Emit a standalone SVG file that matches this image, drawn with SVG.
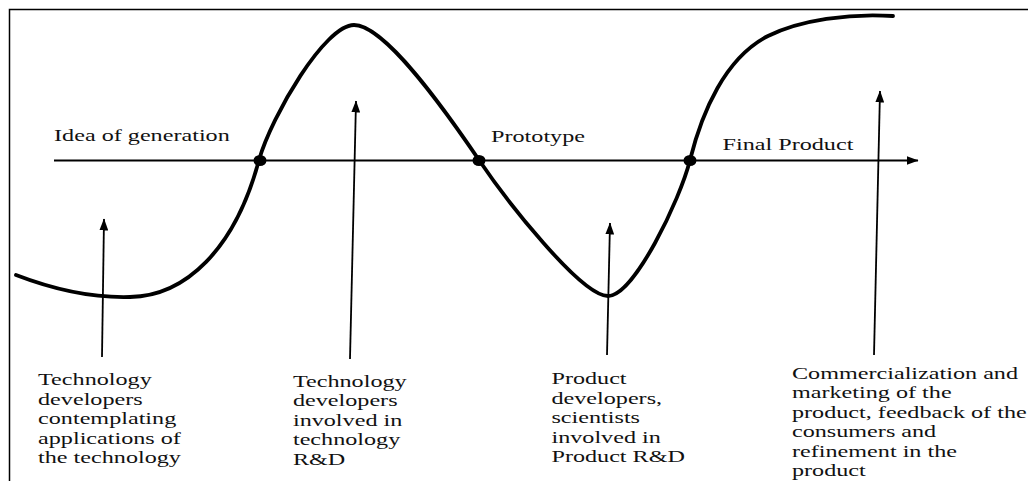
<svg xmlns="http://www.w3.org/2000/svg" width="1028" height="481" viewBox="0 0 1028 481">
  <style>
    .frame { stroke: #000; stroke-width: 1.5; fill: none; }
    .curve { stroke: #000; stroke-width: 3.8; fill: none; stroke-linecap: round; stroke-linejoin: round; }
    .axis { stroke: #000; stroke-width: 2; fill: none; }
    .arrow { stroke: #000; stroke-width: 1.8; fill: none; }
    .dot { fill: #000; }
    text { font-family: "Liberation Serif", "Times New Roman", serif; font-size: 16px; fill: #111; }
  </style>
  <defs>
    <marker id="ah" markerWidth="12" markerHeight="9" refX="11.5" refY="4.5" orient="auto" markerUnits="userSpaceOnUse">
      <path d="M0,0 L12,4.5 L0,9 Z" fill="#000"/>
    </marker>
  </defs>
  <rect width="1028" height="481" fill="#fff"/>

  <g id="frame">
    <path class="frame" d="M9.5,481 L9.5,9.5 L1028,9.5"/>
  </g>

  <g id="axis">
    <line class="axis" x1="54" y1="160.5" x2="918" y2="160.5" marker-end="url(#ah)"/>
  </g>

  <g id="curve">
    <path class="curve" d="M16,275 C55,290 95,298 130,297 C185,296 235,250 259,160 C272,115 325,25 354,25 C385,25 445,110 479,160 C506,200 581,296 608,296 C634,296 680,200 690,160 C702,112 725,58 768,36 C800,20 850,13 893,16"/>
  </g>

  <g id="stage-idea">
    <ellipse class="dot" cx="260" cy="160.5" rx="6.5" ry="5.5"/>
    <text transform="scale(1.51 1)" x="35.8" y="141.5">Idea of generation</text>
  </g>
  <g id="stage-prototype">
    <ellipse class="dot" cx="479" cy="160.5" rx="6.5" ry="5.5"/>
    <text transform="scale(1.51 1)" x="325.2" y="142.5">Prototype</text>
  </g>
  <g id="stage-final">
    <ellipse class="dot" cx="690" cy="160.5" rx="6.5" ry="5.5"/>
    <text transform="scale(1.51 1)" x="478.5" y="150.5">Final Product</text>
  </g>

  <g id="connectors">
    <line class="arrow" x1="102" y1="357" x2="104" y2="219" marker-end="url(#ah)"/>
    <line class="arrow" x1="350" y1="359" x2="356" y2="101" marker-end="url(#ah)"/>
    <line class="arrow" x1="607" y1="355" x2="610" y2="223" marker-end="url(#ah)"/>
    <line class="arrow" x1="874" y1="355" x2="880" y2="91" marker-end="url(#ah)"/>
  </g>

  <g id="label-technology-developers-contemplating">
    <text transform="scale(1.51 1)">
      <tspan x="25.2" y="385.5">Technology</tspan>
      <tspan x="25.2" y="405">developers</tspan>
      <tspan x="25.2" y="424.5">contemplating</tspan>
      <tspan x="25.2" y="444">applications of</tspan>
      <tspan x="25.2" y="463.5">the technology</tspan>
    </text>
  </g>
  <g id="label-technology-rd">
    <text transform="scale(1.51 1)">
      <tspan x="194" y="387">Technology</tspan>
      <tspan x="194" y="406.5">developers</tspan>
      <tspan x="194" y="426">involved in</tspan>
      <tspan x="194" y="445.5">technology</tspan>
      <tspan x="194" y="465">R&amp;D</tspan>
    </text>
  </g>
  <g id="label-product-rd">
    <text transform="scale(1.51 1)">
      <tspan x="365.2" y="384.5">Product</tspan>
      <tspan x="365.2" y="404">developers,</tspan>
      <tspan x="365.2" y="423.5">scientists</tspan>
      <tspan x="365.2" y="443">involved in</tspan>
      <tspan x="365.2" y="462.5">Product R&amp;D</tspan>
    </text>
  </g>
  <g id="label-commercialization">
    <text transform="scale(1.51 1)">
      <tspan x="524.5" y="379">Commercialization and</tspan>
      <tspan x="524.5" y="398.5">marketing of the</tspan>
      <tspan x="524.5" y="418">product, feedback of the</tspan>
      <tspan x="524.5" y="437.5">consumers and</tspan>
      <tspan x="524.5" y="457">refinement in the</tspan>
      <tspan x="524.5" y="476.5">product</tspan>
    </text>
  </g>
</svg>
